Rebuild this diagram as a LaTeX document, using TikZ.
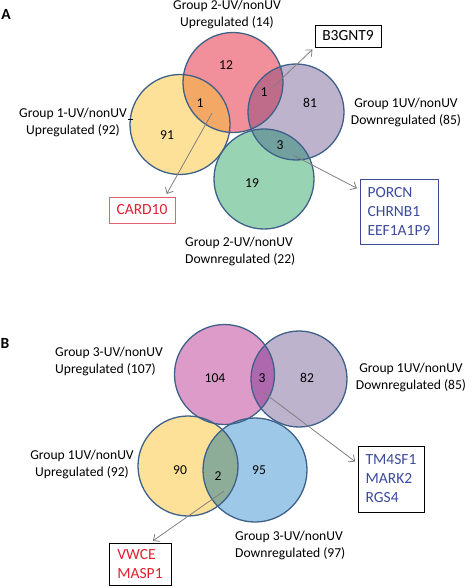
\documentclass[tikz,border=0pt]{standalone}
\usepackage{fontspec}
\setmainfont{Carlito}
\usetikzlibrary{arrows.meta}

\definecolor{vennline}{HTML}{3F6189}
\definecolor{upone}{HTML}{FEE199}
\definecolor{uptwo}{HTML}{F1909A}
\definecolor{upthree}{HTML}{DC9BC8}
\definecolor{dnone}{HTML}{BDB3CD}
\definecolor{dntwo}{HTML}{98D4B4}
\definecolor{dnthree}{HTML}{9DC8E8}
\definecolor{mixorange}{HTML}{F3A866}
\definecolor{mixmauve}{HTML}{BE6C8A}
\definecolor{mixteal}{HTML}{72A09E}
\definecolor{mixplum}{HTML}{AE68AE}
\definecolor{mixsage}{HTML}{8DAD99}
\definecolor{genered}{HTML}{E0202F}
\definecolor{genebord}{HTML}{E06470}
\definecolor{geneblue}{HTML}{3C4A9C}

\tikzset{
  ring/.style={draw=vennline,line width=1.3pt},
  count/.style={inner sep=0pt,font=\fontsize{13.6}{17}\selectfont},
  grp/.style={inner sep=0pt,align=center,font=\fontsize{13.6}{17}\selectfont},
  genebox/.style={draw,line width=0.8pt,align=left,inner sep=0pt,
    font=\fontsize{15.5}{19}\selectfont},
  pointer/.style={->,draw=black!50,line width=0.8pt,shorten >=3pt}
}

\begin{document}
\begin{tikzpicture}[x=1pt,y=-1pt,>={Straight Barb[length=5pt,width=9pt]}]
  \useasboundingbox (0,0) rectangle (471,588);

  % panel A
  \node[font=\fontsize{15.5}{19}\selectfont\bfseries,inner sep=0pt] (tagA) at (6,14) {A};

  \coordinate (upA1) at (180,124.5);
  \coordinate (upA2) at (233,82.5);
  \coordinate (dnA1) at (296,112);
  \coordinate (dnA2) at (264,179);

  \fill[upone] (upA1) circle[radius=50pt];
  \fill[uptwo] (upA2) circle[radius=50pt];
  \fill[dnone] (dnA1) circle[radius=48pt];
  \fill[dntwo] (dnA2) circle[radius=50pt];
  \begin{scope}
    \clip (upA1) circle[radius=50pt];
    \fill[mixorange] (upA2) circle[radius=50pt];
  \end{scope}
  \begin{scope}
    \clip (upA2) circle[radius=50pt];
    \fill[mixmauve] (dnA1) circle[radius=48pt];
  \end{scope}
  \begin{scope}
    \clip (dnA2) circle[radius=50pt];
    \fill[mixteal] (dnA1) circle[radius=48pt];
  \end{scope}
  \draw[ring] (upA1) circle[radius=50pt];
  \draw[ring] (upA2) circle[radius=50pt];
  \draw[ring] (dnA1) circle[radius=48pt];
  \draw[ring] (dnA2) circle[radius=50pt];

  \node[count] (nA12) at (226,65) {12};
  \node[count] (nA1b) at (200,103) {1};
  \node[count] (nA91) at (167,135) {91};
  \node[count] (nA1c) at (264,92) {1};
  \node[count] (nA81) at (310,103) {81};
  \node[count] (nA3) at (280,145) {3};
  \node[count] (nA19) at (252,183) {19};

  \node[grp] (grpA2up) at (227,14) {Group 2-UV/nonUV\\Upregulated (14)};
  \node[grp] (grpA1up) at (73,122) {Group 1-UV/nonUV\\Upregulated (92)};
  \node[grp] (grpA1dn) at (406,112) {Group 1UV/nonUV\\Downregulated (85)};
  \node[grp,align=left,anchor=west] (grpA2dn) at (185,251.5) {Group 2-UV/nonUV\\Downregulated (22)};
  \draw[line width=0.7pt] (128,119) -- (133,119);

  \node[genebox,minimum width=66pt,minimum height=22pt] (b3gnt) at (348,36) {B3GNT9};
  \node[genebox,draw=genebord,text=genered,minimum width=66pt,minimum height=26pt] (card) at (142,210) {CARD10};
  \node[genebox,draw=geneblue,text=geneblue,minimum width=78pt,minimum height=65pt] (porcn) at (399,211.5) {PORCN\\CHRNB1\\EEF1A1P9};

  \coordinate (fromA1c) at (273,87);
  \coordinate (fromA1b) at (212,113);
  \coordinate (fromA3) at (293,155);
  \draw[pointer] (fromA1c) -- (b3gnt.south west);
  \draw[pointer] (fromA1b) -- (card.30);
  \draw[pointer] (fromA3) -- (porcn.151);

  % panel B
  \node[font=\fontsize{15.5}{19}\selectfont\bfseries,inner sep=0pt] (tagB) at (5,343) {B};

  \coordinate (upB3) at (224.5,374.5);
  \coordinate (dnB1) at (299,379);
  \coordinate (upB1) at (188,466);
  \coordinate (dnB3) at (255,470);

  \fill[upthree] (upB3) circle[radius=50pt];
  \fill[dnone] (dnB1) circle[radius=48pt];
  \fill[upone] (upB1) circle[radius=50pt];
  \fill[dnthree] (dnB3) circle[radius=52pt];
  \begin{scope}
    \clip (upB3) circle[radius=50pt];
    \fill[mixplum] (dnB1) circle[radius=48pt];
  \end{scope}
  \begin{scope}
    \clip (upB1) circle[radius=50pt];
    \fill[mixsage] (dnB3) circle[radius=52pt];
  \end{scope}
  \draw[ring] (upB3) circle[radius=50pt];
  \draw[ring] (dnB1) circle[radius=48pt];
  \draw[ring] (upB1) circle[radius=50pt];
  \draw[ring] (dnB3) circle[radius=52pt];

  \node[count] (nB104) at (215,378) {104};
  \node[count] (nB3) at (262,378) {3};
  \node[count] (nB82) at (307,378) {82};
  \node[count] (nB90) at (180,470) {90};
  \node[count] (nB2) at (218,476) {2};
  \node[count] (nB95) at (259,470) {95};

  \node[grp,align=left,anchor=west] (grpB3up) at (55,361.5) {Group 3-UV/nonUV\\Upregulated (107)};
  \node[grp] (grpB1dn) at (411,377) {Group 1UV/nonUV\\Downregulated (85)};
  \node[grp] (grpB1up) at (82,464) {Group 1UV/nonUV\\Upregulated (92)};
  \node[grp,align=left,anchor=west] (grpB3dn) at (235,545.5) {Group 3-UV/nonUV\\Downregulated (97)};

  \node[genebox,text=geneblue,minimum width=66pt,minimum height=66pt] (tmsf) at (391,479) {TM4SF1\\MARK2\\RGS4};
  \node[genebox,text=genered,minimum width=62pt,minimum height=42pt] (vwce) at (140,564) {VWCE\\MASP1};

  \coordinate (fromB3) at (263,392);
  \coordinate (fromB2) at (224,491);
  \draw[pointer] (fromB3) -- (tmsf.155);
  \draw[pointer] (fromB2) -- (vwce.64);
\end{tikzpicture}
\end{document}
